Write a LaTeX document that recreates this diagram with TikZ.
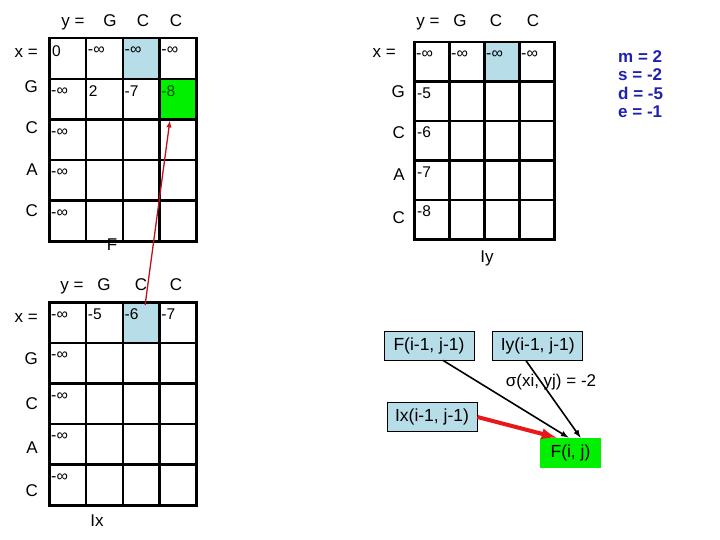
\documentclass[tikz,border=0pt]{standalone}
\usepackage{fontspec}
\setmainfont{Liberation Sans}
\usetikzlibrary{arrows,positioning,backgrounds}
\definecolor{cellblue}{RGB}{183,221,232}
\definecolor{cellgreen}{RGB}{0,240,0}
\definecolor{arrowred}{RGB}{192,16,32}
\definecolor{edgered}{RGB}{232,24,24}
\definecolor{paramblue}{RGB}{32,32,176}
\tikzstyle{cell} = [rectangle, draw=black, line width=2.5pt, anchor=north west, inner sep=0pt]
\tikzstyle{textonly} = [draw=none, fill=none, inner sep=1pt, text centered, font=\fontsize{17}{20}\selectfont]
\tikzstyle{head} = [textonly, anchor=base]
\tikzstyle{rowlab} = [textonly, anchor=base east]
\tikzstyle{val} = [draw=none, fill=none, inner sep=0pt, anchor=base west, font=\fontsize{15.5}{18}\selectfont]
\tikzstyle{infval} = [val, font=\fontsize{16}{18}\selectfont]
\tikzstyle{term} = [rectangle, draw=black, line width=0.8pt, fill=cellblue, minimum width=90pt, minimum height=29pt, inner sep=0pt, font=\fontsize{17.5}{20}\selectfont]
\tikzstyle{goal} = [term, draw=none, fill=cellgreen, minimum width=61pt, minimum height=30pt]
\tikzstyle{param} = [textonly, anchor=north west, text=paramblue, font=\bfseries\fontsize{17}{20}\selectfont]
\tikzstyle{tedge} = [draw, line width=1.6pt, >=latex, ->]
\tikzstyle{redge} = [draw=edgered, line width=4pt, >=latex, ->]
\tikzstyle{backtrack} = [draw=arrowred, line width=1.3pt, >=latex, ->]

\begin{document}
\begin{tikzpicture}[x=1pt, y=-1pt]
\useasboundingbox (0,0) rectangle (720,540);

%grids
\foreach \m/\gx/\gy/\w/\h in {F/48/37/36.75/40.6, Iy/413/41/35/39.4, Ix/48/301/36.75/40.6} {
  \foreach \r in {0,...,4}
    \foreach \c in {0,...,3}
      \node[cell, minimum width=\w pt, minimum height=\h pt] (\m\r\c) at ({\gx+\w*\c},{\gy+\h*\r}) {};
}
\begin{scope}[on background layer]
\fill[cellblue] (F02.north west) rectangle (F02.south east);
\fill[cellgreen] (F13.north west) rectangle (F13.south east);
\fill[cellblue] (Iy02.north west) rectangle (Iy02.south east);
\fill[cellblue] (Ix02.north west) rectangle (Ix02.south east);
\end{scope}

%values
\foreach \n in {F01,F02,F03,F10,F20,F30,F40,Iy00,Iy01,Iy02,Iy03,Ix00,Ix10,Ix20,Ix30,Ix40}
  \node[infval] at ([xshift=3pt,yshift=-18pt]\n.north west) {-∞};
\node[val] at ([xshift=4pt,yshift=-20pt]F00.north west) {0};
\node[val] at ([xshift=4pt,yshift=-19pt]F11.north west) {2};
\node[val] at ([xshift=3pt,yshift=-19pt]F12.north west) {-7};
\node[val, text=black!70!green] at ([xshift=3pt,yshift=-19pt]F13.north west) {-8};
\node[val] at ([xshift=4pt,yshift=-18pt]Iy10.north west) {-5};
\node[val] at ([xshift=4pt,yshift=-18pt]Iy20.north west) {-6};
\node[val] at ([xshift=4pt,yshift=-18pt]Iy30.north west) {-7};
\node[val] at ([xshift=4pt,yshift=-18pt]Iy40.north west) {-8};
\node[val] at ([xshift=3pt,yshift=-18pt]Ix01.north west) {-5};
\node[val] at ([xshift=3pt,yshift=-18pt]Ix02.north west) {-6};
\node[val] at ([xshift=3pt,yshift=-18pt]Ix03.north west) {-7};

%labels F
\node[head] (fy) at (73,27) {y =};
\node[head] at (110,27) {G};
\node[head] at (143,27) {C};
\node[head] at (176,27) {C};
\node[rowlab] (fx) at (39,58) {x =};
\node[rowlab] at (39,93) {G};
\node[rowlab] at (39,134) {C};
\node[rowlab] at (39,176) {A};
\node[rowlab] at (39,216) {C};
\node[head] (ftitle) at (112,251) {F};

%labels Iy
\node[head] (iyy) at (428,27) {y =};
\node[head] at (460,27) {G};
\node[head] at (496,27) {C};
\node[head] at (533,27) {C};
\node[rowlab] (iyx) at (397,58) {x =};
\node[rowlab] at (406,98) {G};
\node[rowlab] at (406,139) {C};
\node[rowlab] at (406,181) {A};
\node[rowlab] at (406,224) {C};
\node[head] (iytitle) at (487,262) {Iy};

%labels Ix
\node[head] (ixy) at (72,290) {y =};
\node[head] at (104,290) {G};
\node[head] at (141,290) {C};
\node[head] at (176,290) {C};
\node[rowlab] (ixx) at (39,322) {x =};
\node[rowlab] at (39,364) {G};
\node[rowlab] at (39,409) {C};
\node[rowlab] at (39,453) {A};
\node[rowlab] at (39,496) {C};
\node[head] (ixtitle) at (97,526) {Ix};

%scores
\node[param] (pm) at (617,49) {m = 2};
\node[param, below = 4pt of pm.south west, anchor=north west] (ps) {s = -2};
\node[param, below = 4pt of ps.south west, anchor=north west] (pd) {d = -5};
\node[param, below = 4pt of pd.south west, anchor=north west] (pe) {e = -1};

%recurrence
\node[term] (fprev) at (429,345.5) {F(i-1, j-1)};
\node[term, right = 18pt of fprev] (iyprev) {Iy(i-1, j-1)};
\node[term] (ixprev) at (432,417) {Ix(i-1, j-1)};
\node[goal] (fcur) at (570.5,453) {F(i, j)};
\node[textonly, font=\fontsize{17}{20}\selectfont] (sigma) at (551,382) {σ(xi, yj) = -2};

%paths
\path[tedge] ([xshift=14pt]fprev.south) -- ([xshift=-2pt]fcur.north);
\path[tedge] ([xshift=-12pt]iyprev.south) -- ([xshift=10pt]fcur.north);
\path[redge] (ixprev.east) -- ([xshift=-14pt]fcur.north);
\path[backtrack] ([xshift=4pt,yshift=-4pt]Ix02.north) -- ([xshift=-8pt]F13.south);

\end{tikzpicture}
\end{document}
